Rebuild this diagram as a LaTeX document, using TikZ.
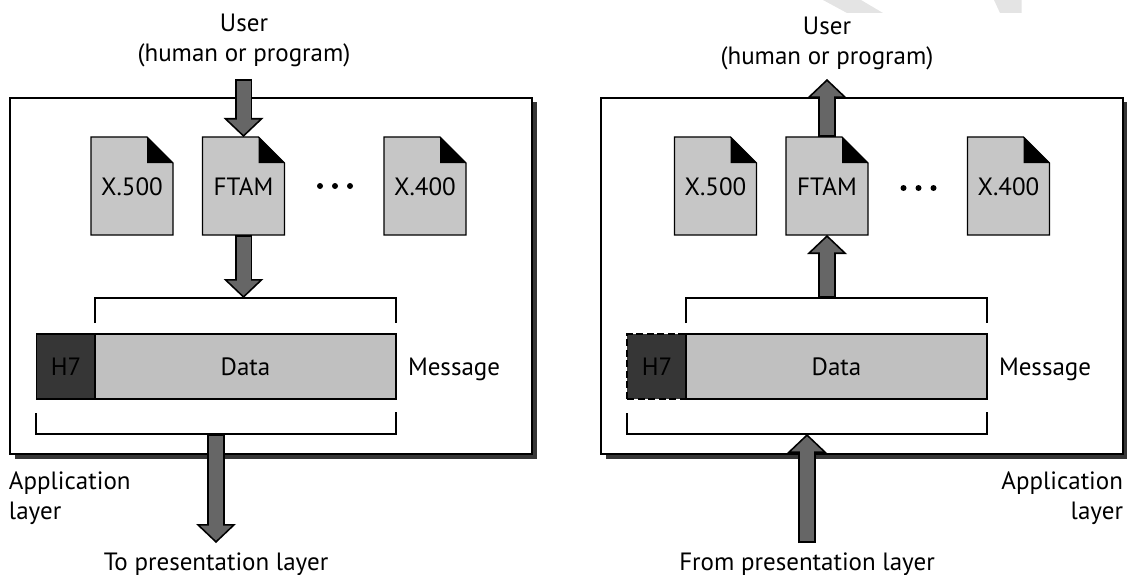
\documentclass[tikz,border=0pt]{standalone}
\usepackage{fontspec}
\setmainfont{PT Sans}
\usepackage{tikz}
\usetikzlibrary{arrows.meta,shadows}

\definecolor{flowgray}{HTML}{666666}
\definecolor{pagegray}{HTML}{C6C6C6}
\definecolor{datagray}{HTML}{C0C0C0}
\definecolor{headgray}{HTML}{363636}
\definecolor{markgray}{HTML}{E4E4E4}

\tikzset{
  every node/.style={font=\fontsize{25}{30}\selectfont, inner sep=0pt, outer sep=0pt},
  panel/.style={draw=black, line width=1.6pt, fill=white, minimum width=522pt, minimum height=356pt,
    drop shadow={shadow xshift=4.5pt, shadow yshift=-4.5pt, fill=headgray, opacity=1}},
  page/.style={minimum width=82pt, minimum height=98pt},
  pageline/.style={draw=black, line width=1.2pt, fill=pagegray, line join=miter},
  datacell/.style={draw=black, line width=1.3pt, fill=datagray, minimum width=301pt, minimum height=65pt},
  headcell/.style={draw=black, line width=1.3pt, fill=headgray, minimum width=59.5pt, minimum height=65pt},
  head r/.style={line width=1.6pt, dash pattern=on 7pt off 3.5pt},
  bracket/.style={draw=black, line width=1.1pt},
  flow/.style={draw=flowgray, line width=14pt, shorten >=2.35pt, shorten <=1.7pt,
    -{Triangle[width=31.5pt,length=15pt,color=flowgray,line width=0pt]},
    preaction={draw=black, line width=17.5pt, shorten >=0pt, shorten <=0pt,
      -{Triangle[width=40pt,length=19pt,color=black,line width=0pt]}}}
}

\begin{document}
\begin{tikzpicture}[x=1pt, y=-1pt]
\useasboundingbox (0,0) rectangle (1127,575);

\fill [markgray] (823,0) -- (861,0) -- (883,13) -- (847,13) -- cycle;
\fill [markgray] (994,0) -- (1021.5,0) -- (1021.5,13) -- (1000,13) -- cycle;

\foreach \p/\dx/\dd/\dy in {l/0/0/186,r/591/583.5/188} {
  \node [panel] (\p-panel) at (271+\dx,276) {};

  \foreach \n/\x/\l in {1/132/X.500,2/243.5/FTAM,3/425/X.400} {
    \node [page] (\p-\n) at (\x+\dd,186) {};
    \draw [pageline] (\p-\n.north west) -- ++(56,0) -- ++(26,26) |- (\p-\n.south west) -- cycle;
    \fill [black] (\p-\n.north west) ++(56,0) -- ++(26,26) -- ++(-26,0) -- cycle;
    \node (\p-\n-text) at (\x+\dd,187) {\l};
  }

  \foreach \n/\x in {1/320,2/335,3/350}
    \node [circle, fill=black, minimum size=6pt] (\p-dot\n) at (\x+\dd,\dy) {};

  \node [headcell, head \p/.try] (\p-head) at (66+\dx,366.5) {H7};
  \node [datacell] (\p-data) at (245.5+\dx,366.5) {Data};
  \node [right] (\p-message) at (408+\dx,369) {Message};

  \draw [bracket] (95+\dx,323) |- (396+\dx,298) -- (396+\dx,323);
  \draw [bracket] (36+\dx,413) |- (396+\dx,434) -- (396+\dx,412);
  \coordinate (\p-top) at (243.5+\dd,298);
}

\node [align=center] (l-user) at (244,40.5) {User\\(human or program)};
\node [align=center] (r-user) at (827,43.5) {User\\(human or program)};
\node [align=left, anchor=west] (l-layer) at (9,498) {Application\\layer};
\node [align=right, anchor=east] (r-layer) at (1123,498) {Application\\layer};
\node (l-pres) at (216,564) {To presentation layer};
\node (r-pres) at (807,564) {From presentation layer};

\coordinate (l-in) at (243.5,79);
\coordinate (l-low) at (216,434);
\coordinate (l-out) at (216,543);
\coordinate (r-out) at (827,79);
\coordinate (r-low) at (807,434);
\coordinate (r-in) at (807,543);

\draw [flow] (l-in) -- (l-2.north);
\draw [flow] (l-2.south) -- (l-top);
\draw [flow] (l-low) -- (l-out);

\draw [flow] (r-2.north) -- (r-out);
\draw [flow] (r-top) -- (r-2.south);
\draw [flow] (r-in) -- (r-low);
\end{tikzpicture}
\end{document}
